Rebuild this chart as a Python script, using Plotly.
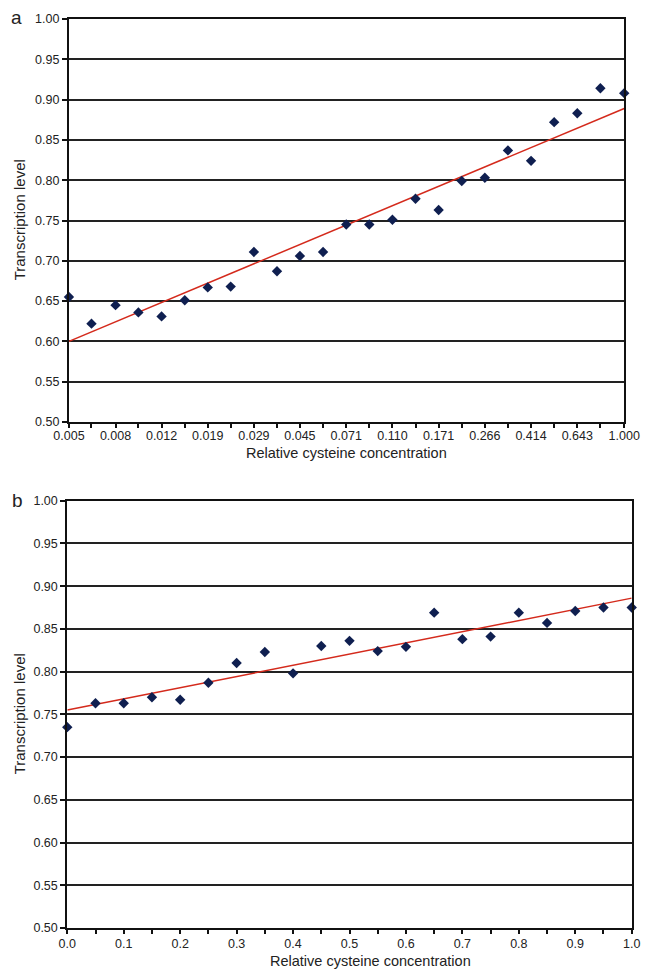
import plotly.graph_objects as go

# ---- Panel a data (log-spaced relative cysteine concentration) ----
conc_a = [0.005, 0.0062, 0.0078, 0.0097, 0.0121, 0.0151, 0.0188, 0.0234, 0.0292,
          0.0364, 0.0453, 0.0565, 0.0705, 0.0878, 0.1095, 0.1365, 0.1702, 0.2122,
          0.2645, 0.3297, 0.4111, 0.5125, 0.6390, 0.7966, 1.0]
level_a = [0.655, 0.622, 0.645, 0.636, 0.631, 0.651, 0.667, 0.668, 0.711,
           0.687, 0.706, 0.711, 0.745, 0.745, 0.751, 0.777, 0.763, 0.799,
           0.803, 0.837, 0.824, 0.872, 0.883, 0.914, 0.908]
tick_labels_a = ["0.005", "0.008", "0.012", "0.019", "0.029", "0.045", "0.071",
                 "0.110", "0.171", "0.266", "0.414", "0.643", "1.000"]
trend_a_x = [0.005, 1.0]
trend_a_y = [0.600, 0.889]

# ---- Panel b data (linear relative cysteine concentration) ----
conc_b = [0.0, 0.05, 0.1, 0.15, 0.2, 0.25, 0.3, 0.35, 0.4, 0.45, 0.5,
          0.55, 0.6, 0.65, 0.7, 0.75, 0.8, 0.85, 0.9, 0.95, 1.0]
level_b = [0.735, 0.763, 0.763, 0.770, 0.767, 0.787, 0.810, 0.823, 0.798, 0.830, 0.836,
           0.824, 0.829, 0.869, 0.838, 0.841, 0.869, 0.857, 0.871, 0.875, 0.875]
tick_labels_b = ["0.0", "0.1", "0.2", "0.3", "0.4", "0.5", "0.6", "0.7", "0.8", "0.9", "1.0"]
trend_b_x = [0.0, 1.0]
trend_b_y = [0.755, 0.886]

y_ticks = [0.50, 0.55, 0.60, 0.65, 0.70, 0.75, 0.80, 0.85, 0.90, 0.95, 1.00]

MARKER = "#0f1f50"
RED = "#d42a1c"
FONT = "Liberation Sans, Arial, sans-serif"

W, H = 659, 969
ML, MR, MT, MB = 67, 11, 19, 41
PW, PH = W - ML - MR, H - MT - MB


def px_x(px):
    return (px - ML) / PW


def px_y(py):
    return 1 - (py - MT) / PH


fig = go.Figure()

fig.add_trace(go.Scatter(x=trend_a_x, y=trend_a_y, mode="lines",
                         line=dict(color=RED, width=1.5),
                         xaxis="x", yaxis="y", showlegend=False, cliponaxis=False))
fig.add_trace(go.Scatter(x=conc_a, y=level_a, mode="markers",
                         marker=dict(symbol="diamond", size=8, color=MARKER),
                         xaxis="x", yaxis="y", showlegend=False, cliponaxis=False))
fig.add_trace(go.Scatter(x=trend_b_x, y=trend_b_y, mode="lines",
                         line=dict(color=RED, width=1.5),
                         xaxis="x2", yaxis="y2", showlegend=False, cliponaxis=False))
fig.add_trace(go.Scatter(x=conc_b, y=level_b, mode="markers",
                         marker=dict(symbol="diamond", size=8, color=MARKER),
                         xaxis="x2", yaxis="y2", showlegend=False, cliponaxis=False))

ticktext_a = []
j = 0
for i in range(len(conc_a)):
    if i % 2 == 0:
        ticktext_a.append(tick_labels_a[j])
        j += 1
    else:
        ticktext_a.append("")

ticktext_b = []
j = 0
for i in range(len(conc_b)):
    if i % 2 == 0:
        ticktext_b.append(tick_labels_b[j])
        j += 1
    else:
        ticktext_b.append("")

axis_common = dict(showline=True, linecolor="#111", linewidth=2, mirror=True,
                   ticks="outside", tickcolor="#111", tickwidth=1.5,
                   tickfont=dict(family=FONT, size=12.5, color="#222"), zeroline=False)

fig.update_layout(
    width=W, height=H, autosize=False,
    margin=dict(l=ML, r=MR, t=MT, b=MB),
    paper_bgcolor="white", plot_bgcolor="white",
    font=dict(family=FONT, color="#222"),
    xaxis=dict(type="log", domain=[px_x(69), px_x(640)],
               range=[-2.30103, 0], tickvals=conc_a, ticktext=ticktext_a,
               ticklen=4, ticklabelstandoff=-3, showgrid=False, anchor="y", **axis_common),
    yaxis=dict(domain=[px_y(422), 1], range=[0.5, 1.0], tickvals=y_ticks,
               tickformat=".2f", ticklen=5, showgrid=True, gridcolor="#222",
               gridwidth=1.5, anchor="x", **axis_common),
    xaxis2=dict(domain=[px_x(67.3), px_x(647.7)], range=[0, 1.0],
                tickvals=conc_b, ticktext=ticktext_b, ticklen=4, ticklabelstandoff=-1,
                showgrid=False, anchor="y2", **axis_common),
    yaxis2=dict(domain=[0, px_y(500.7)], range=[0.5, 1.0], tickvals=y_ticks,
                tickformat=".2f", ticklen=5, showgrid=True, gridcolor="#222",
                gridwidth=1.5, anchor="x2", **axis_common),
)

ann = [
    dict(text="a", x=px_x(15), y=px_y(17), font=dict(size=19)),
    dict(text="b", x=px_x(16), y=px_y(500), font=dict(size=19)),
    dict(text="Transcription level", x=px_x(18), y=px_y(220), textangle=-90, font=dict(size=15)),
    dict(text="Transcription level", x=px_x(18), y=px_y(714), textangle=-90, font=dict(size=15)),
    dict(text="Relative cysteine concentration", x=px_x(354), y=px_y(453), font=dict(size=14.5)),
    dict(text="Relative cysteine concentration", x=px_x(379), y=px_y(961), font=dict(size=14.5)),
]
for a in ann:
    fig.add_annotation(xref="paper", yref="paper", showarrow=False,
                       xanchor="center", yanchor="middle",
                       x=a["x"], y=a["y"], text=a["text"], textangle=a.get("textangle", 0),
                       font=dict(family=FONT, color="#222", size=a["font"]["size"]))

fig.write_html("out.html",
               config={"responsive": False, "displayModeBar": False},
               post_script="document.body.style.margin='0';")
